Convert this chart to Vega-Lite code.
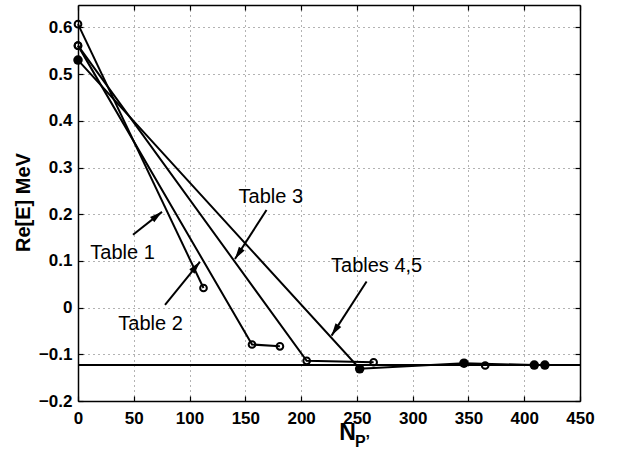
{
  "$schema": "https://vega.github.io/schema/vega-lite/v6.json",
  "width": 502,
  "height": 396,
  "autosize": {"type": "none"},
  "padding": {"left": 78, "top": 5, "right": 41, "bottom": 50},
  "background": "white",
  "config": {
    "view": {"stroke": null},
    "font": "Liberation Sans",
    "axis": {
      "domainColor": "black",
      "domainWidth": 1.5,
      "tickColor": "black",
      "tickWidth": 1.2,
      "tickSize": -5,
      "labelFont": "Liberation Sans",
      "labelFontWeight": "bold",
      "labelFontSize": 17,
      "labelColor": "black",
      "titleFont": "Liberation Sans",
      "titleFontWeight": "bold",
      "titleColor": "black",
      "gridColor": "#000",
      "gridOpacity": 0.6,
      "gridDash": [1, 4],
      "gridWidth": 1
    }
  },
  "datasets": {
    "series": [
      {"s": "Table 1", "o": 1, "x": 0, "y": 0.607, "m": "open"},
      {"s": "Table 1", "o": 2, "x": 112.5, "y": 0.042, "m": "open"},
      {"s": "Table 2", "o": 1, "x": 0, "y": 0.561, "m": "open"},
      {"s": "Table 2", "o": 2, "x": 156, "y": -0.079, "m": "open"},
      {"s": "Table 2", "o": 3, "x": 181, "y": -0.083, "m": "open"},
      {"s": "Table 3", "o": 1, "x": 0, "y": 0.561, "m": "open"},
      {"s": "Table 3", "o": 2, "x": 205, "y": -0.114, "m": "open"},
      {"s": "Table 3", "o": 3, "x": 265, "y": -0.117, "m": "open"},
      {"s": "Tables 4,5", "o": 1, "x": 0, "y": 0.530, "m": "filled"},
      {"s": "Tables 4,5", "o": 2, "x": 252.5, "y": -0.131, "m": "filled"},
      {"s": "Tables 4,5", "o": 3, "x": 346, "y": -0.119, "m": "filled"},
      {"s": "Tables 4,5", "o": 4, "x": 409, "y": -0.123, "m": "filled"},
      {"s": "Tables 4,5", "o": 5, "x": 418.5, "y": -0.123, "m": "filled"},
      {"s": "Table 5", "o": 1, "x": 365, "y": -0.124, "m": "open"}
    ],
    "arrows": [
      {"label": "Table 1", "x1": 49.3, "y1": 0.156, "x2": 75.3, "y2": 0.205, "angle": 51.6},
      {"label": "Table 2", "x1": 78, "y1": 0.006, "x2": 109.3, "y2": 0.098, "angle": 39.6},
      {"label": "Table 3", "x1": 169, "y1": 0.209, "x2": 140.7, "y2": 0.104, "angle": 213},
      {"label": "Tables 4,5", "x1": 258.7, "y1": 0.056, "x2": 227.3, "y2": -0.06, "angle": 213}
    ],
    "labels": [
      {"t": "Table 1", "x": 39.9, "y": 0.118},
      {"t": "Table 2", "x": 65, "y": -0.036},
      {"t": "Table 3", "x": 172.8, "y": 0.236},
      {"t": "Tables 4,5", "x": 267.7, "y": 0.09}
    ],
    "sub": [
      {"t": "P’", "x": 255, "y": -0.2985}
    ],
    "hline": [
      {"y": -0.123}
    ]
  },
  "resolve": {"axis": {"x": "independent", "y": "independent"}},
  "layer": [
    {
      "data": {"name": "series"},
      "mark": {"type": "line", "color": "black", "strokeWidth": 2},
      "encoding": {
        "x": {
          "field": "x", "type": "quantitative",
          "scale": {"domain": [0, 450], "nice": false, "zero": false},
          "axis": {
            "orient": "bottom", "values": [0, 50, 100, 150, 200, 250, 300, 350, 400, 450],
            "grid": true, "labelPadding": 14, "labelFlush": false,
            "title": "N", "titleFontSize": 23, "titleX": 269, "titleY": 38,
            "titleBaseline": "alphabetic", "titleAlign": "center", "titleAnchor": null
          }
        },
        "y": {
          "field": "y", "type": "quantitative",
          "scale": {"domain": [-0.2, 0.648], "nice": false, "zero": false},
          "axis": {
            "orient": "left", "values": [-0.2, -0.1, 0, 0.1, 0.2, 0.3, 0.4, 0.5, 0.6],
            "grid": true, "labelPadding": 11, "labelFlush": false,
            "labelExpr": "datum.value === 0 ? '0' : replace(format(datum.value, '.1f'), '-', '−')",
            "title": "Re[E] MeV", "titleFontSize": 20, "titleX": -55, "titleY": 197,
            "titleBaseline": "middle", "titleAlign": "center", "titleAnchor": null, "titleAngle": -90
          }
        },
        "detail": {"field": "s"},
        "order": {"field": "o", "type": "quantitative"}
      }
    },
    {
      "data": {"name": "hline"},
      "mark": {"type": "rule", "color": "black", "strokeWidth": 2},
      "encoding": {"y": {"field": "y", "type": "quantitative", "axis": null}}
    },
    {
      "data": {"name": "series"},
      "transform": [{"filter": "datum.m === 'open'"}],
      "mark": {"type": "point", "shape": "circle", "filled": false, "stroke": "black", "strokeWidth": 2, "size": 45, "opacity": 1},
      "encoding": {
        "x": {"field": "x", "type": "quantitative",
          "axis": {"orient": "top", "values": [0, 50, 100, 150, 200, 250, 300, 350, 400, 450], "labels": false, "grid": false, "title": null}},
        "y": {"field": "y", "type": "quantitative",
          "axis": {"orient": "right", "values": [-0.2, -0.1, 0, 0.1, 0.2, 0.3, 0.4, 0.5, 0.6], "labels": false, "grid": false, "title": null}}
      }
    },
    {
      "data": {"name": "series"},
      "transform": [{"filter": "datum.m === 'filled'"}],
      "mark": {"type": "point", "shape": "circle", "filled": true, "fill": "black", "size": 90, "opacity": 1},
      "encoding": {
        "x": {"field": "x", "type": "quantitative", "axis": null},
        "y": {"field": "y", "type": "quantitative", "axis": null}
      }
    },
    {
      "data": {"name": "arrows"},
      "mark": {"type": "rule", "color": "black", "strokeWidth": 2},
      "encoding": {
        "x": {"field": "x1", "type": "quantitative", "axis": null},
        "y": {"field": "y1", "type": "quantitative", "axis": null},
        "x2": {"field": "x2"},
        "y2": {"field": "y2"}
      }
    },
    {
      "data": {"name": "arrows"},
      "mark": {"type": "point", "shape": "M0,0L-0.6,2.2L0.6,2.2Z", "filled": true, "fill": "black", "size": 130, "opacity": 1},
      "encoding": {
        "x": {"field": "x2", "type": "quantitative", "axis": null},
        "y": {"field": "y2", "type": "quantitative", "axis": null},
        "angle": {"field": "angle", "type": "quantitative", "scale": null}
      }
    },
    {
      "data": {"name": "labels"},
      "mark": {"type": "text", "font": "Liberation Sans", "fontSize": 20, "color": "black", "align": "center", "baseline": "middle"},
      "encoding": {
        "x": {"field": "x", "type": "quantitative", "axis": null},
        "y": {"field": "y", "type": "quantitative", "axis": null},
        "text": {"field": "t"}
      }
    },
    {
      "data": {"name": "sub"},
      "mark": {"type": "text", "font": "Liberation Sans", "fontWeight": "bold", "fontSize": 16, "color": "black", "align": "center", "baseline": "alphabetic"},
      "encoding": {
        "x": {"field": "x", "type": "quantitative", "axis": null},
        "y": {"field": "y", "type": "quantitative", "axis": null},
        "text": {"field": "t"}
      }
    }
  ]
}
